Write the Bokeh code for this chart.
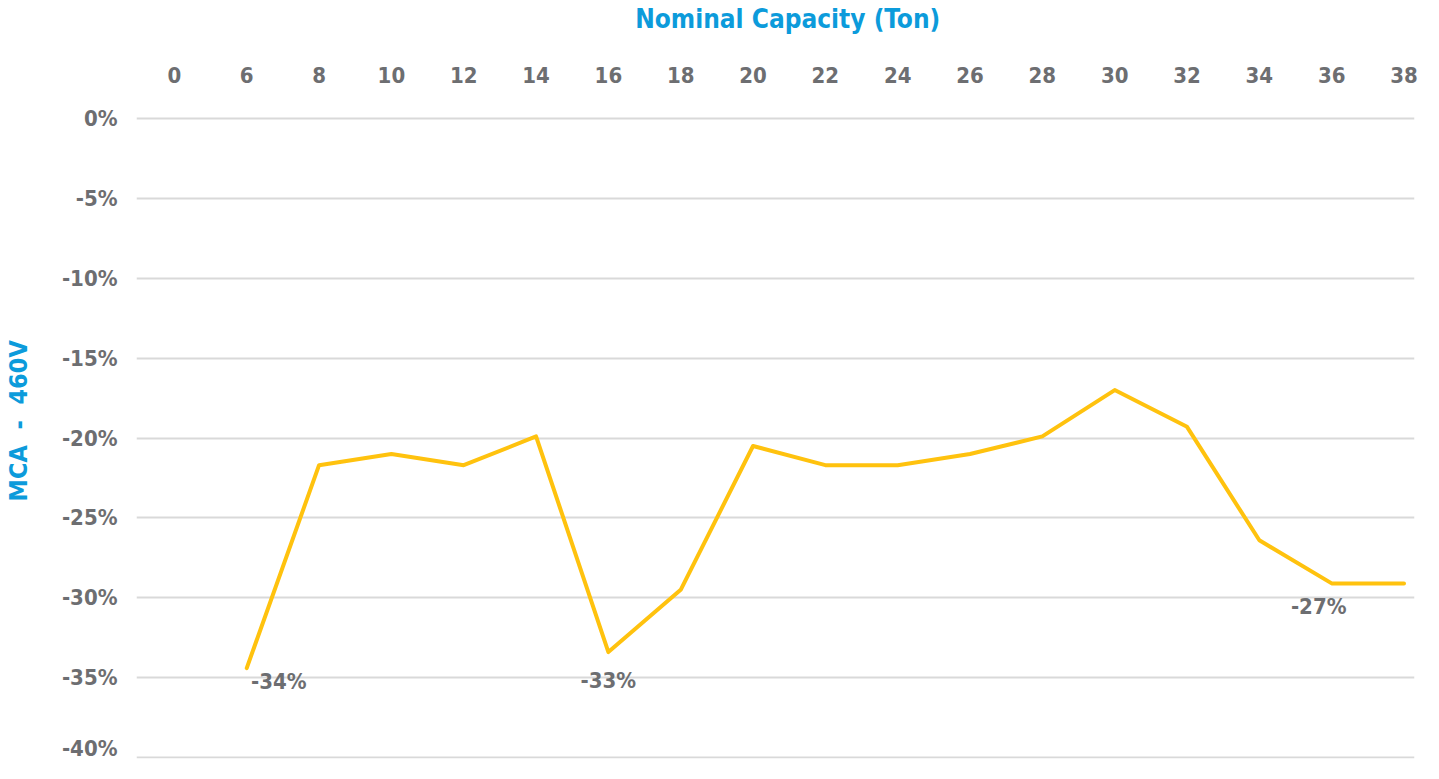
from bokeh.plotting import figure
from bokeh.models import Range1d, FixedTicker, ColumnDataSource
from bokeh.core.properties import value
from bokeh.embed import file_html
from bokeh.resources import INLINE

# ---- data ----
categories = ["0", "6", "8", "10", "12", "14", "16", "18", "20",
              "22", "24", "26", "28", "30", "32", "34", "36", "38"]
series_categories = categories[1:]
mca_values = [-34.4, -21.7, -21.0, -21.7, -19.9, -33.4, -29.5, -20.5,
              -21.7, -21.7, -21.0, -19.9, -17.0, -19.3, -26.4, -29.1, -29.1]
y_ticks = [0, -5, -10, -15, -20, -25, -30, -35, -40]
y_tick_labels = [f"{t}%" for t in y_ticks]
label_categories = ["6", "16", "36"]
label_texts = ["-34%", "-33%", "-27%"]

FONT = "DejaVu Sans Condensed"
BLUE = "#0C9BDB"
GRAY = "#6D6E71"
NB = "\u00a0"

p = figure(width=1420, height=760, output_backend="svg", toolbar_location=None,
           x_axis_location="above",
           x_range=Range1d(-0.524, 17.145), y_range=Range1d(-40.06, 0.25),
           min_border_left=133, min_border_right=6, min_border_top=108,
           min_border_bottom=2)
p.outline_line_color = None
p.background_fill_color = "white"
p.border_fill_color = "white"

xs = [categories.index(c) for c in series_categories]
p.line(xs, mca_values, line_color="#FFC20E", line_width=4, line_join="round",
       line_cap="round")

lab_idx = [categories.index(c) for c in label_categories]
lab_y = [mca_values[series_categories.index(c)] for c in label_categories]
src = ColumnDataSource(dict(x=lab_idx, y=lab_y, text=label_texts,
                            xo=[32, 0, -13], yo=[13, 28, 23]))
p.text(x="x", y="y", text="text", source=src, x_offset="xo", y_offset="yo",
       text_align="center", text_baseline="middle",
       text_font=value(FONT), text_font_size="22px", text_font_style="bold",
       text_color=GRAY)

# x axis (top)
xa = p.xaxis[0]
xa.ticker = FixedTicker(ticks=list(range(len(categories))))
xa.major_label_overrides = {i: c for i, c in enumerate(categories)}
xa.axis_label = NB * 3 + "Nominal Capacity (Ton)"
xa.axis_label_text_font = FONT
xa.axis_label_text_font_size = "26px"
xa.axis_label_text_font_style = "bold"
xa.axis_label_text_color = BLUE
xa.axis_label_standoff = 30
xa.major_label_text_font = FONT
xa.major_label_text_font_size = "22px"
xa.major_label_text_font_style = "bold"
xa.major_label_text_color = GRAY
xa.major_label_standoff = 26
xa.axis_line_color = None
xa.major_tick_line_color = None
xa.minor_tick_line_color = None

# y axis
ya = p.yaxis[0]
ya.ticker = FixedTicker(ticks=y_ticks)
ya.major_label_overrides = {t: l for t, l in zip(y_ticks, y_tick_labels)}
ya.axis_label = NB * 4 + "MCA" + NB * 2 + "-" + NB * 2 + "460V"
ya.axis_label_text_font = FONT
ya.axis_label_text_font_size = "25px"
ya.axis_label_text_font_style = "bold"
ya.axis_label_text_color = BLUE
ya.axis_label_standoff = 26
ya.major_label_text_font = FONT
ya.major_label_text_font_size = "22px"
ya.major_label_text_font_style = "bold"
ya.major_label_text_color = GRAY
ya.major_label_standoff = 13
ya.axis_line_color = None
ya.major_tick_line_color = None
ya.minor_tick_line_color = None

p.xgrid.grid_line_color = None
p.ygrid.ticker = FixedTicker(ticks=y_ticks)
p.ygrid.grid_line_color = "#D9D9D9"
p.ygrid.grid_line_width = 2

open("out.html", "w").write(file_html(p, INLINE))
